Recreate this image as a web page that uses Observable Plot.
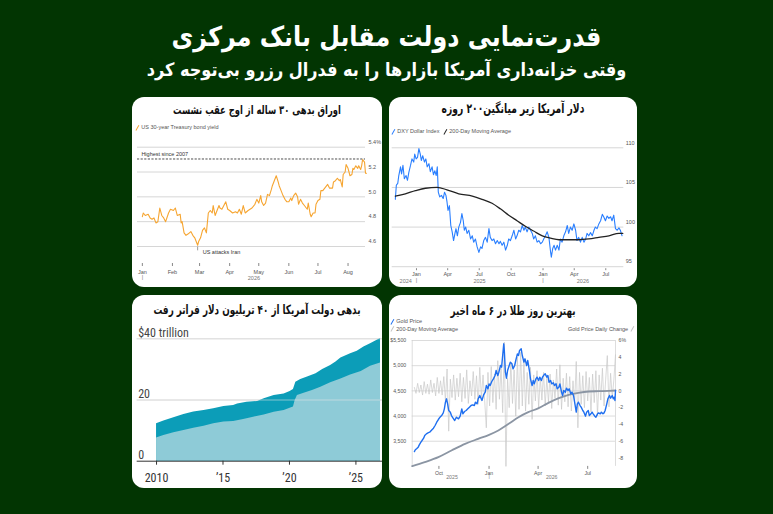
<!DOCTYPE html>
<html><head><meta charset="utf-8">
<script src="https://cdn.jsdelivr.net/npm/d3@7"></script>
<script src="https://cdn.jsdelivr.net/npm/@observablehq/plot@0.6"></script>
<style>
html,body{margin:0;padding:0;}
body{width:773px;height:514px;background:#023502;position:relative;overflow:hidden;font-family:"DejaVu Sans",sans-serif;}
.hd{position:absolute;left:0;width:773px;text-align:center;color:#fff;font-weight:bold;direction:rtl;white-space:nowrap;}
.hd span{display:inline-block;transform:scaleY(1.15);}
.card{position:absolute;background:#fff;border-radius:12px;overflow:hidden;}
.card svg{position:absolute;left:0;top:0;}
.ct{position:absolute;left:0;right:0;text-align:center;font-weight:bold;direction:rtl;color:#111;white-space:nowrap;z-index:2;font-family:"DejaVu Sans Condensed","DejaVu Sans",sans-serif;height:20px;line-height:20px;}
.ct span{display:inline-block;transform:scaleY(1.3);}
.lg{position:absolute;font-family:"Liberation Sans",Arial,sans-serif;font-size:5.5px;line-height:6px;color:#555;white-space:nowrap;z-index:2;}
.sw{display:inline-block;width:1.3px;height:5.5px;transform:rotate(30deg);margin-right:3px;vertical-align:middle;}
</style></head>
<body>
<div class="hd" style="top:21px;height:32px;line-height:32px;font-size:24px;"><span data-w="430">قدرت‌نمایی دولت مقابل بانک مرکزی</span></div>
<div class="hd" style="top:57px;height:26px;line-height:26px;font-size:16px;"><span data-w="480">وقتی خزانه‌داری آمریکا بازارها را به فدرال رزرو بی‌توجه کرد</span></div>

<div class="card" id="c1" style="left:132px;top:97px;width:250px;height:190px;">
  <div class="ct" style="top:3px;font-size:10px;"><span data-w="168">اوراق بدهی ۳۰ ساله از اوج عقب نشست</span></div>
  <div class="lg" style="left:5px;top:27px;"><span class="sw" style="background:#f6a531"></span>US 30-year Treasury bond yield</div>
</div>
<div class="card" id="c2" style="left:389px;top:97px;width:248px;height:190px;">
  <div class="ct" style="top:2px;font-size:10px;"><span data-w="143">دلار آمریکا زیر میانگین۲۰۰ روزه</span></div>
  <div class="lg" style="left:4px;top:31px;"><span class="sw" style="background:#2a7fff"></span>DXY Dollar Index</div>
  <div class="lg" style="left:56px;top:31px;"><span class="sw" style="background:#222"></span>200-Day Moving Average</div>
</div>
<div class="card" id="c3" style="left:132px;top:295px;width:250px;height:193px;">
  <div class="ct" style="top:5px;font-size:10px;"><span data-w="207">بدهی دولت آمریکا از ۴۰ تریلیون دلار فراتر رفت</span></div>
</div>
<div class="card" id="c4" style="left:389px;top:295px;width:248px;height:193px;">
  <div class="ct" style="top:6px;font-size:10px;"><span data-w="125">بهترین روز طلا در ۶ ماه اخیر</span></div>
  <div class="lg" style="left:3px;top:23px;"><span class="sw" style="background:#1f6ff0"></span>Gold Price</div>
  <div class="lg" style="left:3px;top:30.5px;"><span class="sw" style="background:#c4c4c4"></span>200-Day Moving Average</div>
  <div class="lg" style="right:4px;top:30.5px;">Gold Price Daily Change <span class="sw" style="background:#c4c4c4;margin-left:2px;margin-right:0"></span></div>
</div>

<script>
// ---------- DATA ----------
// Panel 1: US 30-year Treasury yield, [days since 2026-01-01, %]
const tsyYield = [[0,4.84],[1,4.87],[3,4.85],[6,4.86],[8,4.83],[10,4.82],[12,4.83],[14,4.79],[16,4.80],[18,4.91],[20,4.85],[22,4.83],[24,4.80],[27,4.87],[29,4.90],[32,4.89],[34,4.91],[36,4.85],[39,4.86],[40,4.79],[41,4.80],[43,4.71],[45,4.69],[47,4.70],[50,4.72],[52,4.69],[54,4.67],[57,4.61],[58,4.64],[60,4.67],[62,4.73],[64,4.75],[66,4.71],[68,4.87],[70,4.89],[72,4.87],[73,4.93],[75,4.85],[77,4.89],[79,4.93],[80,4.91],[82,4.90],[84,4.93],[86,4.96],[88,4.90],[90,4.89],[93,4.87],[96,4.88],[98,4.87],[100,4.90],[102,4.86],[104,4.93],[106,4.87],[109,4.89],[111,4.90],[113,4.91],[116,4.94],[118,4.98],[120,4.95],[122,5.01],[123,4.96],[125,4.93],[127,4.95],[129,5.02],[131,5.01],[133,5.06],[134,5.09],[136,5.13],[138,5.17],[140,5.12],[141,5.09],[143,5.05],[145,5.01],[147,4.98],[149,4.96],[151,4.96],[153,4.99],[154,4.97],[156,5.01],[158,5.03],[160,5.00],[161,4.94],[163,4.98],[165,4.95],[167,4.93],[170,4.90],[171,4.95],[173,4.86],[174,4.84],[176,4.87],[178,4.87],[179,4.94],[181,4.97],[183,4.98],[184,5.05],[186,5.05],[188,5.07],[190,5.09],[191,5.10],[193,5.07],[196,5.07],[197,5.12],[199,5.13],[201,5.15],[203,5.13],[204,5.14],[206,5.08],[207,5.18],[209,5.20],[210,5.26],[212,5.23],[214,5.17],[216,5.18],[217,5.23],[218,5.22],[220,5.25],[222,5.23],[223,5.25],[225,5.22],[226,5.25],[227,5.30],[229,5.28],[230,5.19],[231,5.19]];
const tsyHigh = 5.305;
const tsyTicks = [4.6, 4.8, 5.0, 5.2, 5.4];
const tsyMonths = ["2026-01-01","2026-02-01","2026-03-01","2026-04-01","2026-05-01","2026-06-01","2026-07-01","2026-08-01"];
const tsyNotes = [{date:"2026-02-27", value:4.6, label:"US attacks Iran"}];

// Panel 2: DXY, [days since 2025-01-01, index]
const dxyIndex = [[-61,103.5],[-58,105.3],[-54,105.5],[-51,106.5],[-46,107.6],[-43,106.7],[-39,107.8],[-35,106.1],[-30,106.5],[-26,105.9],[-22,106.9],[-17,107.8],[-13,108.6],[-8,108.2],[-5,109.2],[-1,108.6],[3,108.8],[7,109.9],[11,109.2],[14,108.4],[18,109.0],[23,108.2],[27,108.6],[31,107.6],[36,108.0],[40,107.0],[45,107.6],[49,106.6],[53,107.1],[57,106.5],[60,107.6],[63,104.4],[67,103.8],[72,104.0],[77,103.6],[81,104.4],[85,104.0],[88,103.2],[91,102.1],[95,102.7],[99,100.2],[103,99.4],[107,98.3],[111,99.2],[114,99.8],[118,98.9],[122,100.0],[127,100.6],[131,101.7],[135,100.8],[138,99.6],[142,100.0],[146,99.2],[151,99.6],[156,98.5],[161,98.9],[165,98.1],[170,98.5],[175,97.5],[180,96.8],[185,97.5],[189,97.3],[194,98.3],[199,98.7],[204,98.1],[209,99.8],[213,98.7],[218,98.3],[223,98.5],[228,97.9],[233,98.3],[238,97.9],[242,98.2],[247,97.7],[252,98.1],[257,97.1],[262,97.7],[266,98.5],[271,98.3],[276,98.9],[281,99.6],[286,98.5],[290,98.9],[295,99.6],[300,99.4],[305,100.2],[310,99.6],[314,100.0],[319,99.4],[324,100.0],[329,99.6],[334,99.2],[338,98.5],[343,98.9],[348,98.1],[353,98.3],[358,97.9],[363,98.1],[367,98.5],[372,98.9],[377,99.4],[382,98.7],[387,96.8],[389,96.2],[393,97.3],[397,97.7],[401,97.1],[406,97.7],[411,97.1],[415,98.5],[420,98.1],[425,98.9],[430,99.4],[435,100.2],[439,99.2],[444,100.0],[449,99.6],[454,100.4],[459,99.6],[463,98.3],[468,98.7],[473,98.1],[478,98.7],[483,98.1],[488,98.5],[492,99.2],[497,98.9],[502,99.3],[507,98.9],[512,99.6],[516,100.0],[521,99.8],[526,100.4],[531,100.8],[536,101.6],[540,101.3],[545,100.8],[550,101.4],[555,101.1],[560,101.3],[564,100.8],[569,101.5],[574,99.8],[579,99.6],[584,99.9],[588,99.6],[593,98.9]];
const dxyMA200 = [[-61,103.9],[-32,104.2],[-3,104.6],[26,104.9],[60,105.0],[88,104.7],[122,104.2],[161,103.9],[189,103.5],[218,103.0],[242,102.3],[266,101.5],[290,100.8],[314,100.1],[338,99.5],[363,98.9],[387,98.6],[411,98.4],[439,98.4],[468,98.4],[497,98.5],[526,98.7],[555,98.9],[584,99.2],[595,99.2]];
const dxyTicks = [95, 100, 105, 110];
const dxyMonths = ["2025-01-01","2025-04-01","2025-07-01","2025-10-01","2026-01-01","2026-04-01","2026-07-01"];
const dxyYears = [{date:"2024-12-01", label:"2024"},{date:"2025-07-02", label:"2025"},{date:"2026-04-26", label:"2026"}];
const dxyYearBreaks = ["2025-01-01","2026-01-01"];

// Panel 3: US federal debt, [year, $ trillion]
const debtTotal = [[2010.0,12.2],[2010.55,13.1],[2011.3,14.2],[2012.06,15.3],[2012.8,16.1],[2013.57,16.6],[2014.3,17.1],[2015.07,17.9],[2015.8,18.2],[2016.1,18.7],[2016.8,19.3],[2017.6,19.5],[2018.1,20.4],[2018.85,21.5],[2019.6,22.0],[2020.05,22.8],[2020.3,23.4],[2020.48,25.8],[2020.85,26.7],[2021.36,27.5],[2022.0,28.6],[2022.5,30.0],[2023.1,31.3],[2023.5,32.4],[2023.87,33.7],[2024.6,35.1],[2025.1,35.9],[2025.6,37.3],[2026.1,38.4],[2026.85,40.1]];
const debtPublic = [[2010.0,7.6],[2010.55,8.4],[2011.3,9.3],[2012.06,10.0],[2012.8,10.8],[2013.57,11.4],[2014.3,12.2],[2015.07,12.8],[2015.8,13.0],[2016.55,13.6],[2017.3,14.4],[2018.1,15.1],[2018.85,16.0],[2019.6,16.6],[2020.1,17.4],[2020.3,17.7],[2020.43,19.8],[2020.6,21.5],[2021.1,22.2],[2021.73,23.1],[2022.36,24.2],[2023.1,25.6],[2023.87,26.9],[2024.6,28.2],[2025.4,29.3],[2026.1,31.0],[2026.85,32.1]];
const debtTicks = [0, 20, 40];
const debtYears = [2010, 2015, 2020, 2025];

// Panel 4: gold, [days since 2026-01-01, $/oz] and daily change [days, %]
const goldPrice = [[-137,3295],[-135,3335],[-133,3349],[-130,3382],[-128,3428],[-125,3481],[-123,3514],[-120,3560],[-118,3613],[-115,3646],[-112,3666],[-109,3679],[-106,3713],[-102,3759],[-99,3812],[-96,3878],[-93,3931],[-90,3977],[-87,4010],[-84,4063],[-82,4143],[-80,4275],[-78,4342],[-76,4242],[-74,4110],[-71,4077],[-69,4010],[-66,3958],[-63,3911],[-60,3977],[-56,3944],[-53,3997],[-50,4143],[-48,4044],[-45,4090],[-42,4110],[-39,4143],[-36,4176],[-33,4209],[-30,4222],[-27,4209],[-25,4275],[-22,4242],[-20,4342],[-17,4408],[-13,4309],[-10,4421],[-7,4474],[-5,4606],[-2,4540],[0,4639],[2,4606],[5,4686],[8,4739],[11,4805],[13,4904],[16,4805],[18,4871],[21,5004],[23,4970],[25,5202],[27,5434],[28,5301],[30,4871],[32,4752],[34,4904],[37,5004],[39,5070],[42,5037],[44,4937],[47,5004],[49,5103],[52,5235],[54,5202],[56,5301],[59,5334],[61,5202],[64,5070],[66,5136],[69,5004],[71,5103],[74,4904],[76,4739],[79,4606],[81,4705],[83,4639],[86,4739],[88,4772],[91,4705],[93,4772],[96,4705],[98,4772],[101,4818],[103,4838],[106,4772],[108,4805],[110,4672],[113,4705],[115,4639],[118,4659],[120,4606],[123,4639],[125,4540],[128,4573],[130,4639],[133,4474],[135,4408],[137,4507],[140,4474],[142,4553],[145,4507],[147,4540],[150,4441],[152,4474],[155,4408],[157,4275],[160,4077],[162,4242],[164,4275],[167,4209],[169,4176],[172,4110],[174,4077],[177,3997],[179,4077],[182,4110],[184,4010],[187,4044],[189,4077],[191,4044],[194,3997],[196,3977],[199,4044],[201,4063],[204,4044],[206,4077],[209,4044],[211,4063],[213,4110],[216,4242],[218,4342],[221,4408],[223,4355],[226,4408],[228,4342],[230,4375],[231,4309],[232,4507]];
const goldMA200 = [[-141,3004],[-118,3084],[-93,3183],[-69,3315],[-44,3448],[-20,3547],[0,3627],[17,3713],[36,3845],[54,3977],[72,4077],[91,4156],[109,4262],[128,4355],[146,4421],[164,4461],[183,4487],[201,4494],[220,4500],[232,4507]];
const goldChange = [[-137,0.4],[-134,-0.3],[-131,0.9],[-128,-0.2],[-125,0.7],[-122,-0.5],[-119,1.1],[-116,-0.3],[-113,0.8],[-110,-0.4],[-107,1.3],[-104,-0.2],[-101,0.9],[-98,-0.6],[-95,1.6],[-92,-0.3],[-89,1.2],[-86,-0.5],[-83,1.7],[-80,-1.2],[-77,2.6],[-74,-4.8],[-71,1.4],[-68,-0.8],[-65,1.9],[-62,-1.1],[-59,1.5],[-56,-0.7],[-53,2.1],[-50,-1.3],[-47,1.6],[-44,-0.9],[-41,2.5],[-38,-1.5],[-35,1.2],[-32,-0.6],[-29,2.3],[-26,-1.0],[-23,1.8],[-20,-1.6],[-17,2.8],[-14,-0.8],[-11,1.9],[-8,-1.2],[-5,-4.4],[-2,2.2],[1,-1.8],[4,2.9],[7,-1.4],[10,2.0],[13,-2.2],[16,3.6],[19,-1.0],[22,2.7],[25,-2.6],[28,5.8],[31,-9.0],[34,1.5],[37,-2.0],[40,3.4],[43,-1.5],[46,2.5],[49,-3.0],[52,4.0],[55,-2.2],[58,4.6],[61,-1.8],[64,3.6],[67,-2.4],[70,2.2],[73,-1.6],[76,2.8],[79,-3.4],[82,1.9],[85,-1.2],[88,2.4],[91,-2.0],[94,1.6],[97,-1.1],[100,2.2],[103,-1.8],[106,1.5],[109,-1.4],[112,2.0],[115,-2.1],[118,1.3],[121,-0.9],[124,2.6],[127,-1.7],[130,3.1],[133,-2.2],[136,1.5],[139,-1.3],[142,2.1],[145,-1.9],[148,1.7],[151,-2.4],[154,1.2],[157,-1.5],[160,3.5],[163,-4.4],[166,2.2],[169,-1.6],[172,1.8],[175,-2.0],[178,2.3],[181,-1.2],[184,1.6],[187,-2.5],[190,2.0],[193,-1.4],[196,2.4],[199,-3.0],[202,1.9],[205,-1.1],[208,2.7],[211,-1.8],[214,1.4],[217,4.2],[220,-1.9],[223,2.1],[226,-0.8],[229,1.3],[232,4.3]];
const goldTicks = [3500, 4000, 4500, 5000, 5500];
const changeTicks = [-8, -6, -4, -2, 0, 2, 4, 6];
const goldMonths = ["2025-10-01","2026-01-01","2026-04-01","2026-07-01"];
const goldYears = [{date:"2025-10-25", label:"2025"},{date:"2026-04-26", label:"2026"}];

// ---------- fit Persian headings to the widths seen in the reference ----------
document.querySelectorAll("[data-w]").forEach(el => {
  const w = el.getBoundingClientRect().width;
  const fs = parseFloat(getComputedStyle(el.parentNode).fontSize);
  el.parentNode.style.fontSize = (fs * (+el.dataset.w) / w).toFixed(2) + "px";
});

// ---------- helpers ----------
const DAY = 864e5;
const B25 = Date.UTC(2025,0,1), B26 = Date.UTC(2026,0,1);
const at = (base, d) => new Date(base + d * DAY);
const D = s => new Date(s + "T00:00:00Z");
const small = {background:"transparent", fontFamily:"'Liberation Sans', Arial, sans-serif", fontSize:"5.5px", color:"#555", overflow:"visible"};
const mount = (id, svg) => document.getElementById(id).appendChild(svg);

// ---------- Panel 1 ----------
mount("c1", Plot.plot({
  width:250, height:190, marginTop:49.7, marginBottom:24, marginLeft:5, marginRight:17,
  style: small,
  x:{type:"utc", domain:[at(B26,-5), at(B26,230)], label:null},
  y:{domain:[4.463, 5.4], label:null},
  marks:[
    Plot.gridY(tsyTicks, {stroke:"#d6d6d6", strokeOpacity:1}),
    Plot.axisY(tsyTicks, {anchor:"right", tickSize:0, tickPadding:3, dy:-5, fill:"#555", tickFormat:d => d === 5.4 ? "5.4%" : d.toFixed(1), label:null}),
    Plot.axisX(tsyMonths.map(D), {tickSize:3, tickPadding:3.5, tickFormat:"%b", stroke:"#888", fill:"#555", label:null}),
    Plot.text([{date:D("2026-01-01")}], {x:"date", text:() => "|", frameAnchor:"bottom", dy:15, fill:"#777"}),
    Plot.text([{date:D("2026-04-26")}], {x:"date", text:() => "2026", frameAnchor:"bottom", dy:16, fill:"#777"}),
    Plot.ruleY([tsyHigh], {stroke:"#222", strokeWidth:0.8, strokeDasharray:"2.2,1.4"}),
    Plot.text([{date:at(B26,-1), v:tsyHigh}], {x:"date", y:"v", text:() => "Highest since 2007", textAnchor:"start", dy:-4.5, fill:"#333"}),
    Plot.line(tsyYield, {x:d => at(B26,d[0]), y:d => d[1], stroke:"#f6a531", strokeWidth:1.1}),
    Plot.ruleX(tsyNotes, {x:d => D(d.date), y1:4.595, y2:4.565, stroke:"#555", strokeWidth:0.6}),
    Plot.text(tsyNotes, {x:d => D(d.date), y:4.55, text:"label", textAnchor:"start", dx:5, fill:"#333"})
  ]
}));

// ---------- Panel 2 ----------
mount("c2", Plot.plot({
  width:248, height:190, marginTop:50.3, marginBottom:18.8, marginLeft:2.7, marginRight:13.7,
  style: small,
  x:{type:"utc", domain:[at(B25,-70), at(B25,598)], label:null},
  y:{domain:[94.75, 110], label:null},
  marks:[
    Plot.gridY(dxyTicks, {stroke:"#d6d6d6", strokeOpacity:1}),
    Plot.axisY(dxyTicks, {anchor:"right", tickSize:0, tickPadding:2, dy:-5, fill:"#555", label:null}),
    Plot.axisX(dxyMonths.map(D), {tickSize:2, tickPadding:1.8, tickFormat:"%b", stroke:"#888", fill:"#555", label:null}),
    Plot.text(dxyYears, {x:d => D(d.date), text:"label", frameAnchor:"bottom", dy:14, fill:"#777"}),
    Plot.text(dxyYearBreaks, {x:d => D(d), text:() => "|", frameAnchor:"bottom", dy:13.5, fill:"#777"}),
    Plot.line(dxyIndex, {x:d => at(B25,d[0]), y:d => d[1], stroke:"#2a7fff", strokeWidth:1.1}),
    Plot.line(dxyMA200, {x:d => at(B25,d[0]), y:d => d[1], stroke:"#222", strokeWidth:1.3, curve:"monotone-x"})
  ]
}));

// ---------- Panel 3 ----------
const narrow = "'Liberation Sans Narrow','Arial Narrow','Roboto Condensed','Liberation Sans',Arial,sans-serif";
mount("c3", Plot.plot({
  width:250, height:193, marginTop:43.3, marginBottom:27.3, marginLeft:4.7, marginRight:0,
  style:{background:"transparent", fontFamily:narrow, fontSize:"12px", color:"#333", overflow:"visible"},
  x:{domain:[2008.545, 2027.0], label:null},
  y:{domain:[0, 40], label:null, axis:null},
  marks:[
    Plot.gridY(debtTicks.filter(d => d > 0), {stroke:"#d2d2d2", strokeOpacity:1}),
    Plot.areaY(debtTotal, {x:d => d[0], y:d => d[1], fill:"#0c9db8"}),
    Plot.areaY(debtPublic, {x:d => d[0], y:d => d[1], fill:"#8ecbd7"}),
    Plot.gridY(debtTicks.filter(d => d > 0), {stroke:"#e8e8e8", strokeOpacity:0.55}),
    Plot.ruleY([0], {stroke:"#333", strokeWidth:1}),
    Plot.text(debtTicks, {y:d => d, text:d => d === 40 ? "$40 trillion" : String(d), frameAnchor:"left", textAnchor:"start", lineAnchor:"bottom", dx:1, dy:-2, fill:"#444"}),
    Plot.axisX(debtYears, {tickSize:4, tickPadding:8, stroke:"#333", fill:"#333", tickFormat:d => d === 2010 ? "2010" : "\u2019" + String(d).slice(2), label:null})
  ]
}));

// ---------- Panel 4 ----------
const toPrice = c => 4500 + c * 1000 / 6;
mount("c4", Plot.plot({
  width:248, height:193, marginTop:45, marginBottom:22.1, marginLeft:22.7, marginRight:22,
  style: {...small, fontSize:"5.2px"},
  x:{type:"utc", domain:[at(B26,-141), at(B26,232)], label:null},
  y:{domain:[3000, 5500], label:null},
  marks:[
    Plot.gridY(goldTicks, {stroke:"#dcdcdc", strokeOpacity:1}),
    Plot.ruleX([at(B26,-141), at(B26,232)], {stroke:"#cfcfcf", strokeWidth:0.7}),
    Plot.line(goldChange, {x:d => at(B26,d[0]), y:d => toPrice(d[1]), stroke:"#c9c9c9", strokeWidth:0.7}),
    Plot.line(goldMA200, {x:d => at(B26,d[0]), y:d => d[1], stroke:"#8b95a3", strokeWidth:1.8, curve:"monotone-x"}),
    Plot.line(goldPrice, {x:d => at(B26,d[0]), y:d => d[1], stroke:"#1f6ff0", strokeWidth:1.4}),
    Plot.axisY(goldTicks, {anchor:"left", tickSize:0, tickPadding:6, fill:"#555", tickFormat:d => d === 5500 ? "$5,500" : d3.format(",")(d), label:null}),
    Plot.axisY(changeTicks.map(toPrice), {anchor:"right", tickSize:0, tickPadding:3, fill:"#555", tickFormat:v => { const c = Math.round((v - 4500) * 6 / 1000); return c === 6 ? "6%" : String(c); }, label:null}),
    Plot.axisX(goldMonths.map(D), {tickSize:3, tickPadding:1.5, tickFormat:"%b", stroke:"#888", fill:"#555", label:null}),
    Plot.text(goldYears, {x:d => D(d.date), text:"label", frameAnchor:"bottom", dy:12.4, fill:"#777"}),
    Plot.text(["2026-01-01"], {x:d => D(d), text:() => "|", frameAnchor:"bottom", dy:12, fill:"#777"})
  ]
}));
</script>
</body></html>
